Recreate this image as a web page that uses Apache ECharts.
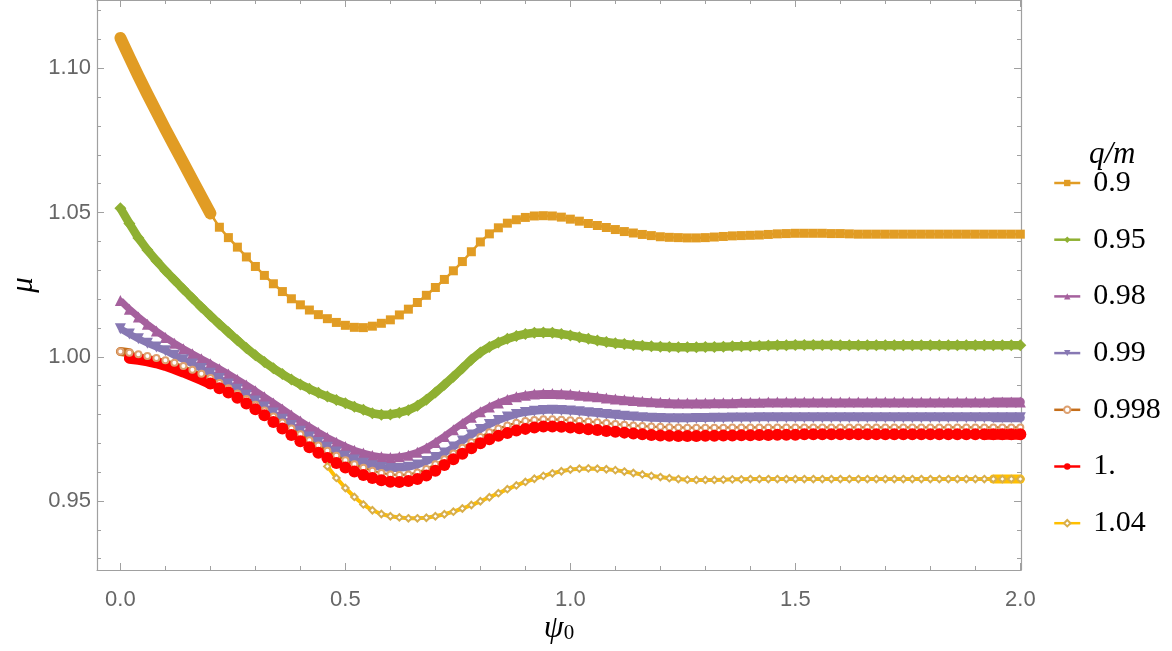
<!DOCTYPE html>
<html><head><meta charset="utf-8">
<script src="https://cdn.jsdelivr.net/npm/echarts@6/dist/echarts.min.js"></script>
<style>html,body{margin:0;padding:0;background:#fff}#c{width:1172px;height:651px}</style>
</head><body><div id="c"></div>
<script>
// x grid (psi_0)
const psi0 = [0,0.02,0.04,0.06,0.08,0.1,0.12,0.14,0.16,0.18,
0.2,0.22,0.24,0.26,0.28,0.3,0.32,0.34,0.36,0.38,
0.4,0.42,0.44,0.46,0.48,0.5,0.52,0.54,0.56,0.58,
0.6,0.62,0.64,0.66,0.68,0.7,0.72,0.74,0.76,0.78,
0.8,0.82,0.84,0.86,0.88,0.9,0.92,0.94,0.96,0.98,
1,1.02,1.04,1.06,1.08,1.1,1.12,1.14,1.16,1.18,
1.2,1.22,1.24,1.26,1.28,1.3,1.32,1.34,1.36,1.38,
1.4,1.42,1.44,1.46,1.48,1.5,1.52,1.54,1.56,1.58,
1.6,1.62,1.64,1.66,1.68,1.7,1.72,1.74,1.76,1.78,
1.8,1.82,1.84,1.86,1.88,1.9,1.92,1.94,1.96,1.98,
2];

// mu values, q/m = 0.9
const q0_9 = [1.1105,1.1038,1.0973,1.0910,1.0849,1.0789,1.0730,1.0672,1.0613,1.0555,
1.0497,1.0449,1.0413,1.0380,1.0346,1.0313,1.0282,1.0253,1.0226,1.0201,
1.0180,1.0162,1.0146,1.0132,1.0119,1.0109,1.0102,1.0101,1.0106,1.0116,
1.0128,1.0145,1.0165,1.0188,1.0213,1.0240,1.0268,1.0298,1.0330,1.0364,
1.0398,1.0426,1.0447,1.0463,1.0475,1.0483,1.0488,1.0489,1.0488,1.0484,
1.0477,1.0470,1.0462,1.0455,1.0448,1.0441,1.0434,1.0429,1.0424,1.0420,
1.0416,1.0414,1.0413,1.0412,1.0412,1.0413,1.0415,1.0417,1.0419,1.0420,
1.0421,1.0422,1.0424,1.0426,1.0427,1.0428,1.0428,1.0428,1.0428,1.0427,
1.0427,1.0426,1.0425,1.0425,1.0425,1.0425,1.0425,1.0425,1.0425,1.0425,
1.0425,1.0425,1.0425,1.0425,1.0425,1.0425,1.0425,1.0425,1.0425,1.0425,
1.0425];

// q/m = 0.95
const q0_95 = [1.0515,1.0462,1.0412,1.0370,1.0333,1.0298,1.0266,1.0234,1.0203,1.0172,
1.0142,1.0113,1.0085,1.0057,1.0030,1.0005,0.9982,0.9960,0.9940,0.9921,
0.9904,0.9889,0.9875,0.9862,0.9850,0.9839,0.9827,0.9816,0.9804,0.9799,
0.9800,0.9806,0.9815,0.9830,0.9851,0.9876,0.9903,0.9931,0.9960,0.9990,
1.0015,1.0034,1.0049,1.0062,1.0072,1.0079,1.0083,1.0084,1.0083,1.0079,
1.0074,1.0068,1.0062,1.0056,1.0051,1.0047,1.0044,1.0041,1.0038,1.0036,
1.0035,1.0034,1.0033,1.0033,1.0033,1.0034,1.0034,1.0035,1.0036,1.0036,
1.0037,1.0038,1.0039,1.0040,1.0040,1.0041,1.0041,1.0041,1.0041,1.0041,
1.0040,1.0040,1.0040,1.0040,1.0040,1.0040,1.0040,1.0040,1.0040,1.0040,
1.0040,1.0040,1.0040,1.0040,1.0040,1.0040,1.0040,1.0040,1.0040,1.0040,
1.0040];

// q/m = 0.98
const q0_98 = [1.0195,1.0165,1.0138,1.0113,1.0089,1.0067,1.0047,1.0028,1.0010,0.9993,
0.9976,0.9958,0.9940,0.9921,0.9902,0.9882,0.9861,0.9840,0.9819,0.9798,
0.9777,0.9757,0.9738,0.9720,0.9704,0.9689,0.9676,0.9666,0.9658,0.9653,
0.9651,0.9653,0.9659,0.9669,0.9684,0.9703,0.9724,0.9747,0.9769,0.9790,
0.9809,0.9826,0.9840,0.9852,0.9861,0.9867,0.9871,0.9873,0.9873,0.9872,
0.9870,0.9867,0.9864,0.9861,0.9857,0.9854,0.9851,0.9848,0.9846,0.9844,
0.9842,0.9841,0.9840,0.9840,0.9840,0.9840,0.9841,0.9841,0.9841,0.9842,
0.9842,0.9842,0.9843,0.9843,0.9843,0.9843,0.9843,0.9843,0.9843,0.9843,
0.9843,0.9843,0.9843,0.9843,0.9843,0.9843,0.9843,0.9843,0.9843,0.9843,
0.9843,0.9843,0.9843,0.9843,0.9843,0.9843,0.9843,0.9843,0.9843,0.9843,
0.9843];

// q/m = 0.99
const q0_99 = [1.0097,1.0079,1.0062,1.0047,1.0034,1.0021,1.0005,0.9990,0.9975,0.9959,
0.9943,0.9925,0.9906,0.9887,0.9867,0.9847,0.9826,0.9805,0.9783,0.9762,
0.9742,0.9722,0.9703,0.9686,0.9670,0.9655,0.9642,0.9631,0.9622,0.9616,
0.9613,0.9613,0.9617,0.9625,0.9637,0.9651,0.9666,0.9687,0.9708,0.9729,
0.9748,0.9765,0.9779,0.9791,0.9800,0.9807,0.9811,0.9814,0.9815,0.9814,
0.9812,0.9809,0.9806,0.9803,0.9800,0.9797,0.9794,0.9791,0.9789,0.9787,
0.9786,0.9785,0.9785,0.9785,0.9786,0.9786,0.9787,0.9787,0.9788,0.9788,
0.9788,0.9789,0.9789,0.9789,0.9789,0.9789,0.9789,0.9789,0.9789,0.9789,
0.9789,0.9789,0.9789,0.9789,0.9789,0.9789,0.9789,0.9789,0.9789,0.9789,
0.9789,0.9789,0.9789,0.9789,0.9789,0.9789,0.9789,0.9789,0.9789,0.9789,
0.9789];

// q/m = 0.998
const q0_998 = [1.0018,1.0014,1.0009,1.0003,0.9996,0.9988,0.9979,0.9968,0.9955,0.9941,
0.9926,0.9909,0.9891,0.9873,0.9854,0.9834,0.9814,0.9793,0.9772,0.9751,
0.9731,0.9711,0.9692,0.9674,0.9657,0.9641,0.9627,0.9615,0.9605,0.9597,
0.9592,0.9590,0.9592,0.9599,0.9611,0.9627,0.9645,0.9665,0.9685,0.9704,
0.9722,0.9738,0.9751,0.9762,0.9771,0.9777,0.9781,0.9783,0.9783,0.9782,
0.9780,0.9778,0.9776,0.9773,0.9770,0.9767,0.9764,0.9762,0.9760,0.9758,
0.9757,0.9756,0.9755,0.9754,0.9754,0.9754,0.9754,0.9754,0.9755,0.9755,
0.9755,0.9755,0.9755,0.9755,0.9755,0.9755,0.9755,0.9755,0.9755,0.9755,
0.9755,0.9755,0.9755,0.9755,0.9755,0.9755,0.9755,0.9755,0.9755,0.9755,
0.9755,0.9755,0.9755,0.9755,0.9755,0.9755,0.9755,0.9755,0.9755,0.9755,
0.9755];

// q/m = 1.
const q1 = [null,0.9995,0.9991,0.9986,0.9979,0.9970,0.9959,0.9947,0.9934,0.9921,
0.9907,0.9891,0.9876,0.9858,0.9838,0.9818,0.9797,0.9774,0.9751,0.9729,
0.9707,0.9686,0.9667,0.9649,0.9632,0.9616,0.9602,0.9590,0.9580,0.9572,
0.9567,0.9566,0.9569,0.9576,0.9588,0.9605,0.9625,0.9645,0.9664,0.9683,
0.9700,0.9714,0.9726,0.9736,0.9744,0.9750,0.9755,0.9758,0.9758,0.9757,
0.9755,0.9752,0.9749,0.9746,0.9743,0.9740,0.9737,0.9734,0.9731,0.9729,
0.9727,0.9726,0.9725,0.9725,0.9725,0.9726,0.9726,0.9727,0.9727,0.9728,
0.9728,0.9729,0.9729,0.9730,0.9730,0.9730,0.9731,0.9731,0.9731,0.9731,
0.9731,0.9731,0.9731,0.9731,0.9731,0.9731,0.9731,0.9731,0.9731,0.9731,
0.9731,0.9731,0.9731,0.9731,0.9731,0.9731,0.9731,0.9731,0.9731,0.9731,
0.9731];

// q/m = 1.04
const q1_04 = [null,null,null,null,null,null,null,null,null,null,
null,null,null,null,null,null,null,null,null,null,
null,null,null,0.9620,0.9580,0.9545,0.9514,0.9488,0.9468,0.9455,
0.9447,0.9443,0.9440,0.9440,0.9442,0.9447,0.9454,0.9463,0.9474,0.9486,
0.9499,0.9513,0.9527,0.9541,0.9554,0.9566,0.9577,0.9587,0.9596,0.9603,
0.9609,0.9612,0.9613,0.9612,0.9610,0.9607,0.9602,0.9597,0.9592,0.9587,
0.9583,0.9579,0.9576,0.9574,0.9573,0.9573,0.9573,0.9574,0.9575,0.9575,
0.9576,0.9576,0.9576,0.9576,0.9576,0.9576,0.9576,0.9576,0.9576,0.9576,
0.9576,0.9576,0.9576,0.9576,0.9576,0.9576,0.9576,0.9576,0.9576,0.9576,
0.9576,0.9576,0.9576,0.9576,0.9576,0.9576,0.9576,0.9576,0.9576,0.9576,
0.9576];

const legendNames = ['0.9','0.95','0.98','0.99','0.998','1.','1.04'];
const xMajorTicks = [0,0.5,1,1.5,2];
const xMinorTicks = [0.1,0.2,0.3,0.4,0.6,0.7,0.8,0.9,1.1,1.2,1.3,1.4,1.6,1.7,1.8,1.9];
const yMajorTicks = [0.95,1.00,1.05,1.10];
const yMinorTicks = [0.93,0.94,0.96,0.97,0.98,0.99,1.01,1.02,1.03,1.04,1.06,1.07,1.08,1.09,1.11,1.12];

function seg(vals, a, b) {
  const out = [];
  for (let i = a; i <= b; i++) if (vals[i] != null) out.push([psi0[i], vals[i]]);
  return out;
}

const specs = [
  {name:'0.9',   vals:q0_9,   line:'#E19C24', mark:'#E19C24', symbol:'rect',         size:9,   rot:0,   width:2.5, from:10, dense:[[0,10,12]]},
  {name:'0.95',  vals:q0_95,  line:'#8FB032', mark:'#8FB032', symbol:'diamond',      size:12,  rot:0,   width:8.5, from:0,  dense:[]},
  {name:'0.98',  vals:q0_98,  line:'#A5609D', mark:'#A5609D', symbol:'triangle',     size:11,  rot:0,   width:7,   from:0,  dense:[[97,100,9]]},
  {name:'0.99',  vals:q0_99,  line:'#8778B3', mark:'#8778B3', symbol:'triangle',     size:11,  rot:180, width:7,   from:0,  dense:[[97,100,9]]},
  {name:'0.998', vals:q0_998, line:'#C56E1A', mark:'#DDA070', symbol:'emptyCircle',  size:6,   rot:0,   width:2.2, from:0,  dense:[[0,1,9]]},
  {name:'1.',    vals:q1,     line:'#FF0000', mark:'#FF0000', symbol:'circle',       size:12,  rot:0,   width:2,   from:10, dense:[[1,10,11],[96,100,11]]},
  {name:'1.04',  vals:q1_04,  line:'#FFBF00', mark:'#D8AE4A', symbol:'emptyDiamond', size:6.5, rot:0,   width:4,   from:0,  dense:[[97,100,9]]}
];

const series = [];
specs.forEach(s => {
  series.push({
    type:'line', name:s.name, data:seg(s.vals, s.from, 100),
    symbol:s.symbol, symbolSize:s.size, symbolRotate:s.rot, showAllSymbol:true,
    itemStyle:{color:s.mark}, lineStyle:{color:s.line, width:s.width},
    clip:false, animation:false, silent:true
  });
  s.dense.forEach(d => {
    series.push({
      type:'line', data:seg(s.vals, d[0], d[1]), symbol:'none',
      lineStyle:{color:s.line, width:d[2], cap:'round', join:'round'},
      clip:false, animation:false, silent:true
    });
  });
});

const X0 = -0.052, X1 = 2.0015, Y0 = 0.92608, Y1 = 1.12367;
const frame = '#a0a0a0';
const labelStyle = {color:'#666', fontFamily:'Liberation Sans', fontSize:22};

function xAx(pos, ticks, len, showLine, showLabel) {
  return {
    type:'value', position:pos, min:X0, max:X1,
    axisLine:{show:showLine, onZero:false, lineStyle:{color:frame, width:1.2}},
    axisTick:{show:true, inside:true, length:len, customValues:ticks, lineStyle:{color:frame, width:1}},
    axisLabel: showLabel ? Object.assign({show:true, customValues:ticks, margin:19, formatter:v=>Number(v).toFixed(1)}, labelStyle) : {show:false},
    splitLine:{show:false}
  };
}
function yAx(pos, ticks, len, showLine, showLabel) {
  return {
    type:'value', position:pos, min:Y0, max:Y1,
    axisLine:{show:showLine, onZero:false, lineStyle:{color:frame, width:1.2}},
    axisTick:{show:true, inside:true, length:len, customValues:ticks, lineStyle:{color:frame, width:1}},
    axisLabel: showLabel ? Object.assign({show:true, customValues:ticks, margin:6, formatter:v=>Number(v).toFixed(2)}, labelStyle) : {show:false},
    splitLine:{show:false}
  };
}

const chart = echarts.init(document.getElementById('c'), null, {renderer:'canvas'});
chart.setOption({
  backgroundColor:'#fff',
  animation:false,
  grid:{left:97, right:151, top:0, bottom:81, containLabel:false},
  xAxis:[
    xAx('bottom', xMajorTicks, 7, true, true),
    xAx('bottom', xMinorTicks, 4, false, false),
    xAx('top', xMajorTicks, 7, true, false),
    xAx('top', xMinorTicks, 4, false, false)
  ],
  yAxis:[
    yAx('left', yMajorTicks, 7, true, true),
    yAx('left', yMinorTicks, 4, false, false),
    yAx('right', yMajorTicks, 7, true, false),
    yAx('right', yMinorTicks, 4, false, false)
  ],
  legend:{
    data:legendNames, orient:'vertical', left:1048, top:163,
    itemWidth:26, itemHeight:8, itemGap:26.7,
    lineStyle:{width:2.5},
    textStyle:{fontFamily:'Liberation Serif', fontSize:30, color:'#000', padding:[0,0,0,8]},
    selectedMode:false
  },
  graphic:[
    {type:'text', x:24, y:285, rotation:Math.PI/2,
     style:{text:'μ', font:'italic 31px "Liberation Serif"', fill:'#000', align:'center', verticalAlign:'middle'}},
    {type:'text', x:559, y:633,
     style:{text:'{a|ψ}{b|0}', align:'center', verticalAlign:'middle',
       rich:{a:{fontFamily:'Liberation Serif', fontStyle:'italic', fontSize:32, fill:'#000', color:'#000', padding:[0,0,8,0]},
             b:{fontFamily:'Liberation Serif', fontSize:21, fill:'#000', color:'#000'}}}},
    {type:'text', x:1089, y:155,
     style:{text:'q/m', font:'italic 31px "Liberation Serif"', fill:'#000', align:'left', verticalAlign:'middle'}}
  ],
  series:series
});
</script>
</body></html>
